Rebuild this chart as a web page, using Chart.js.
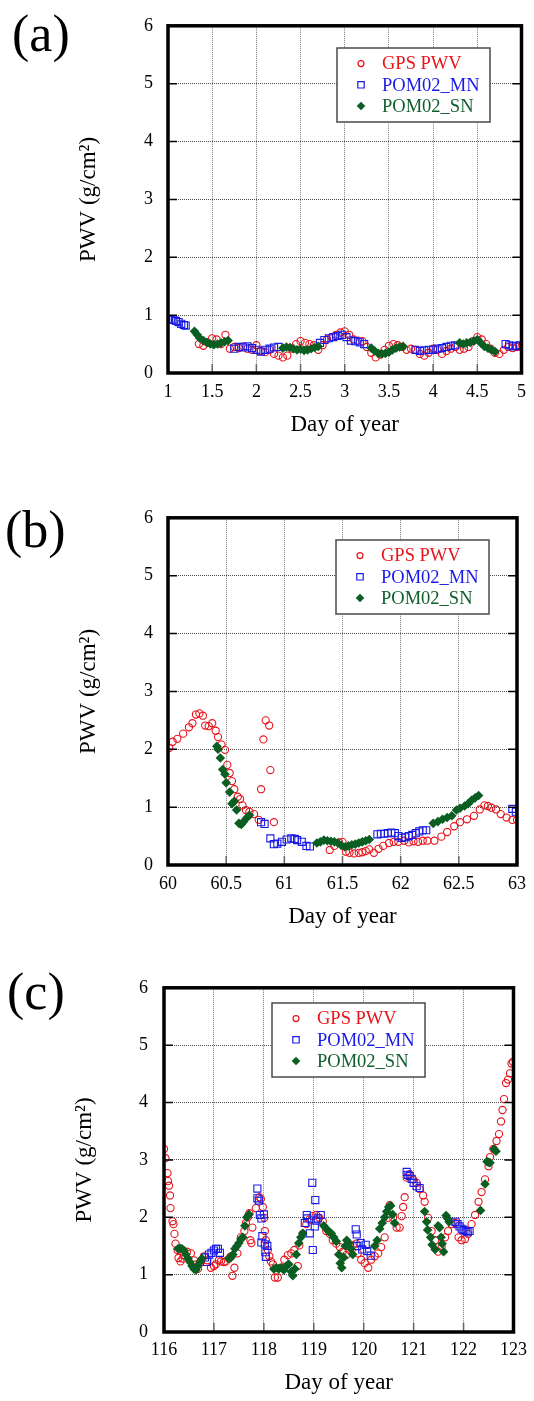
<!DOCTYPE html>
<html>
<head>
<meta charset="utf-8">
<script src="https://cdn.jsdelivr.net/npm/chart.js@4.4.1/dist/chart.umd.min.js"></script>
<style>
  body { margin: 0; background: #fff; width: 534px; height: 1401px; position: relative; overflow: hidden; }
  .panel { position: absolute; left: 0; width: 534px; height: 440px; }
  .tag { position: absolute; font-family: "Liberation Serif", "Times New Roman", serif; font-size: 52px; line-height: 1; color: #000; }
</style>
</head>
<body>
<div class="panel" style="top:0"><canvas id="chart-a"></canvas></div>
<div class="panel" style="top:492px"><canvas id="chart-b"></canvas></div>
<div class="panel" style="top:961px"><canvas id="chart-c"></canvas></div>
<div class="tag" style="left:12px;top:8px">(a)</div>
<div class="tag" style="left:5px;top:504px">(b)</div>
<div class="tag" style="left:7px;top:966px">(c)</div>
<script>
// ---- data ----
const seriesNames = ['GPS PWV', 'POM02_MN', 'POM02_SN'];
const pwvTicks = [0, 1, 2, 3, 4, 5, 6];
const dayTicksA = [1, 1.5, 2, 2.5, 3, 3.5, 4, 4.5, 5];
const dayTicksB = [60, 60.5, 61, 61.5, 62, 62.5, 63];
const dayTicksC = [116, 117, 118, 119, 120, 121, 122, 123];

// (a) days 1-5
const gpsDaysA = [1.35,1.40,1.45,1.50,1.55,1.60,1.65,1.70,1.75,1.80,1.85,1.90,1.95,
  2.00,2.05,2.10,2.15,2.20,2.25,2.30,2.35,2.40,2.45,2.50,2.55,2.60,2.65,2.70,2.75,2.80,2.85,2.90,2.95,
  3.00,3.05,3.10,3.15,3.20,3.25,3.30,3.35,3.40,3.45,3.50,3.55,3.60,3.65,3.70,3.75,3.80,3.85,3.90,3.95,
  4.00,4.05,4.10,4.15,4.20,4.25,4.30,4.35,4.40,4.45,4.50,4.55,4.60,4.65,4.70,4.75,4.80,4.85,4.90,4.95,5.00];
const gpsPwvA = [.50,.47,.52,.60,.58,.50,.66,.42,.45,.43,.46,.42,.40,
  .48,.38,.36,.40,.33,.30,.27,.30,.42,.50,.55,.52,.50,.48,.40,.48,.58,.62,.66,.70,
  .72,.66,.58,.56,.55,.45,.35,.27,.32,.40,.47,.50,.48,.45,.40,.42,.40,.33,.30,.35,
  .42,.40,.33,.38,.42,.45,.40,.42,.45,.55,.62,.58,.50,.42,.35,.33,.40,.45,.43,.45,.45];
const mnDaysA = [1.00,1.03,1.06,1.09,1.12,1.15,1.18,1.20,
  1.75,1.80,1.85,1.90,1.95,2.00,2.05,2.10,2.15,2.20,2.25,
  2.72,2.77,2.82,2.87,2.92,2.97,3.02,3.07,3.12,3.17,3.22,
  3.80,3.85,3.90,3.95,4.00,4.05,4.10,4.15,4.20,4.25,
  4.82,4.86,4.90,4.94,4.98];
const mnPwvA = [.93,.92,.92,.90,.88,.85,.83,.82,
  .42,.45,.44,.46,.43,.40,.37,.40,.42,.44,.45,
  .52,.57,.60,.62,.64,.66,.62,.56,.55,.53,.50,
  .40,.38,.39,.40,.40,.42,.43,.45,.47,.48,
  .50,.48,.46,.47,.48];
const snDaysA = [1.30,1.33,1.36,1.40,1.44,1.48,1.52,1.56,1.60,1.64,1.68,
  2.30,2.34,2.38,2.42,2.46,2.50,2.54,2.58,2.62,2.66,2.70,
  3.30,3.34,3.38,3.42,3.46,3.50,3.54,3.58,3.62,3.66,
  4.30,4.34,4.38,4.42,4.46,4.50,4.54,4.58,4.62,4.66,4.70];
const snPwvA = [.72,.66,.60,.56,.53,.50,.49,.50,.52,.54,.56,
  .43,.45,.44,.42,.40,.41,.39,.40,.42,.44,.46,
  .43,.38,.34,.33,.34,.36,.40,.43,.45,.46,
  .52,.50,.52,.53,.55,.58,.52,.46,.43,.40,.37];

// (b) days 60-63
const gpsDaysB = [60.01,60.04,60.08,60.13,60.18,60.21,60.24,60.27,60.30,60.32,60.35,60.38,60.41,60.43,60.46,
  60.49,60.51,60.53,60.55,60.57,60.60,60.62,60.64,60.67,60.70,60.74,60.78,60.80,60.82,60.84,60.87,60.88,60.91,
  61.39,61.43,61.47,61.50,61.53,61.56,61.60,61.64,61.67,61.70,61.73,61.77,61.81,61.85,61.90,61.94,61.98,
  62.03,62.07,62.11,62.15,62.19,62.23,62.29,62.35,62.40,62.46,62.51,62.57,62.63,62.68,62.72,62.75,62.78,
  62.82,62.86,62.91,62.96,63.00];
const gpsPwvB = [2.02,2.13,2.18,2.27,2.38,2.45,2.60,2.62,2.58,2.41,2.40,2.45,2.32,2.21,2.08,
  1.99,1.73,1.59,1.45,1.31,1.18,1.14,1.03,0.95,0.92,0.88,0.78,1.31,2.17,2.50,2.41,1.64,0.74,
  0.26,0.33,0.39,0.40,0.23,0.21,0.20,0.21,0.22,0.24,0.27,0.21,0.28,0.33,0.38,0.40,0.40,
  0.42,0.39,0.41,0.40,0.42,0.42,0.42,0.49,0.57,0.67,0.74,0.79,0.85,0.96,1.03,1.02,0.99,
  0.96,0.88,0.82,0.78,0.78];
const mnDaysB = [60.80,60.83,60.88,60.91,60.94,60.98,61.02,61.06,61.09,61.11,61.15,61.19,61.22,
  61.80,61.83,61.86,61.89,61.92,61.95,61.98,62.01,62.04,62.07,62.10,62.13,62.16,62.19,62.22,
  62.96,62.99];
const mnPwvB = [.74,.71,.46,.36,.37,.40,.44,.46,.45,.43,.40,.33,.32,
  .53,.54,.54,.55,.56,.55,.50,.47,.48,.50,.52,.55,.58,.60,.60,
  .97,.92];
const snDaysB = [60.42,60.43,60.45,60.47,60.49,60.50,60.53,60.55,60.57,60.59,60.61,60.63,60.65,60.68,60.70,
  61.28,61.31,61.34,61.37,61.40,61.43,61.46,61.49,61.52,61.55,61.58,61.61,61.64,61.67,61.70,61.73,
  62.28,62.32,62.36,62.40,62.44,62.48,62.51,62.55,62.58,62.61,62.64,62.67];
const snPwvB = [2.05,2.00,1.85,1.65,1.57,1.42,1.26,1.06,1.10,0.95,0.72,0.70,0.75,0.82,0.86,
  .38,.40,.43,.42,.41,.40,.38,.34,.31,.33,.35,.36,.38,.40,.42,.44,
  .72,.75,.79,.82,.85,.95,.98,1.02,1.06,1.12,1.16,1.20];

// (c) days 116-123
const gpsDaysC = [116.00,116.03,116.07,116.08,116.10,116.12,116.13,116.17,116.19,116.21,116.23,116.27,116.29,
  116.33,116.37,116.40,116.46,116.54,116.60,116.64,116.68,116.74,116.80,116.87,116.94,117.00,117.04,117.10,
  117.14,117.20,117.24,117.30,117.34,117.37,117.41,117.47,117.54,117.61,117.64,117.68,117.71,117.73,117.75,
  117.77,117.84,117.91,117.94,117.98,118.01,118.02,118.04,118.08,118.11,118.14,118.18,118.22,118.28,118.34,
  118.41,118.48,118.55,118.61,118.68,118.71,118.78,118.85,118.91,118.98,119.05,119.11,119.18,119.25,119.32,
  119.38,119.45,119.52,119.58,119.65,119.72,119.78,119.85,119.88,119.95,120.02,120.09,120.15,120.22,120.29,
  120.35,120.42,120.49,120.52,120.59,120.66,120.72,120.76,120.79,120.82,120.86,120.92,120.99,121.06,121.12,
  121.19,121.22,121.29,121.36,121.43,121.49,121.56,121.63,121.69,121.76,121.83,121.90,121.96,122.03,122.09,
  122.16,122.23,122.30,122.36,122.43,122.50,122.53,122.60,122.66,122.71,122.75,122.78,122.81,122.85,122.89,
  122.93,122.96,122.99];
const gpsPwvC = [3.19,3.03,2.77,2.63,2.55,2.38,2.16,1.93,1.88,1.71,1.54,1.43,1.29,
  1.23,1.28,1.34,1.40,1.37,1.25,1.18,1.10,1.22,1.32,1.25,1.12,1.15,1.18,1.25,
  1.23,1.22,1.23,1.28,1.32,0.98,1.12,1.37,1.65,1.76,1.90,2.00,2.07,1.60,1.55,
  1.82,2.16,2.35,2.32,2.18,1.99,1.76,1.60,1.43,1.32,1.23,1.18,0.95,0.95,1.12,
  1.26,1.34,1.37,1.43,1.15,1.51,1.71,1.88,1.96,2.02,2.04,1.99,1.93,1.76,1.71,
  1.60,1.54,1.48,1.40,1.34,1.43,1.51,1.54,1.37,1.26,1.20,1.12,1.26,1.32,1.37,
  1.48,1.65,1.99,2.21,1.99,1.82,1.82,2.02,2.18,2.35,2.69,2.75,2.66,2.60,2.49,
  2.38,2.27,1.99,1.76,1.60,1.40,1.48,1.65,1.76,1.88,1.90,1.65,1.60,1.62,1.71,
  1.88,2.04,2.27,2.44,2.66,2.89,3.05,3.19,3.33,3.45,3.67,3.87,4.06,4.34,4.40,
  4.51,4.68,4.71];
const mnDaysC = [116.82,116.86,116.90,116.95,117.00,117.04,117.08,117.12,
  117.87,117.87,117.90,117.92,117.95,117.97,117.95,118.02,118.07,118.03,118.04,118.00,
  118.82,118.86,118.87,118.92,118.97,118.98,119.02,119.03,119.05,119.08,119.14,
  119.84,119.86,119.87,119.94,119.97,120.04,120.07,120.14,
  120.86,120.88,120.92,120.96,121.00,121.06,121.12,
  121.84,121.88,121.92,121.96,122.00,122.04,122.08,122.12];
const mnPwvC = [1.30,1.22,1.35,1.38,1.42,1.45,1.45,1.38,
  2.50,2.33,2.29,2.04,1.98,1.67,1.56,1.53,1.50,1.39,1.31,2.05,
  1.90,2.04,1.98,1.72,2.60,1.43,1.84,2.30,1.94,1.98,2.04,
  1.79,1.70,1.50,1.55,1.44,1.52,1.41,1.33,
  2.79,2.74,2.72,2.67,2.60,2.54,2.51,
  1.92,1.88,1.84,1.80,1.78,1.76,1.74,1.76];
const snDaysC = [116.28,116.32,116.36,116.40,116.44,116.48,116.52,116.56,116.60,116.64,116.68,116.72,116.76,
  117.30,117.34,117.38,117.42,117.46,117.50,117.54,117.58,117.62,117.66,117.70,
  118.20,118.25,118.30,118.35,118.40,118.45,118.50,118.55,118.58,118.62,
  118.65,118.70,118.74,118.78,
  119.20,119.25,119.30,119.35,119.40,119.45,119.50,119.53,119.56,119.60,119.63,119.66,119.70,119.74,119.78,
  120.22,120.27,120.32,120.37,120.42,120.46,120.50,120.54,120.58,120.62,
  121.22,121.26,121.28,121.34,121.37,121.43,121.49,121.52,121.55,121.57,121.60,121.65,121.68,121.71,
  122.34,122.43,122.47,122.50,122.53,122.61,122.65];
const snPwvC = [1.45,1.46,1.45,1.42,1.35,1.28,1.22,1.15,1.10,1.08,1.15,1.22,1.28,
  1.28,1.30,1.35,1.45,1.50,1.55,1.62,1.65,1.85,2.00,2.05,
  1.10,1.12,1.10,1.12,1.08,1.15,1.18,1.05,0.98,1.10,
  1.35,1.55,1.65,1.72,
  1.85,1.80,1.75,1.72,1.65,1.58,1.35,1.20,1.12,1.30,1.50,1.60,1.55,1.45,1.35,
  1.50,1.60,1.80,1.90,2.00,2.10,2.18,2.20,2.05,1.90,
  2.10,1.92,1.78,1.65,1.52,1.44,1.85,1.82,1.65,1.54,1.40,2.03,1.98,1.92,
  2.12,2.58,2.97,2.96,2.95,3.19,3.15];

// ---- styling ----
const FONT = '"Liberation Serif", "Times New Roman", serif';
Chart.defaults.font.family = FONT;
Chart.defaults.color = '#000';

const RED = '#e8141c', BLUE = '#1a1ae6', GREEN = '#0b5e22';
const textColors = ['#e8141c', '#1a1ae6', '#0d5e2a'];

// small marker painter used by the legend box
function mark(ctx, kind, x, y) {
  ctx.beginPath();
  if (kind === 0) {
    ctx.strokeStyle = RED; ctx.lineWidth = 1.2;
    ctx.arc(x, y, 3, 0, Math.PI * 2); ctx.stroke();
  } else if (kind === 1) {
    ctx.strokeStyle = BLUE; ctx.lineWidth = 1.2;
    ctx.rect(x - 3.2, y - 3.2, 6.4, 6.4); ctx.stroke();
  } else {
    ctx.fillStyle = GREEN;
    ctx.moveTo(x, y - 4.3); ctx.lineTo(x + 4.3, y); ctx.lineTo(x, y + 4.3); ctx.lineTo(x - 4.3, y);
    ctx.closePath(); ctx.fill();
  }
}

const legendBox = {
  id: 'legendBox',
  afterDraw(chart, args, opts) {
    const { ctx } = chart;
    const { x, y } = opts;
    ctx.save();
    ctx.fillStyle = '#fff';
    ctx.fillRect(x, y, 153, 74);
    ctx.strokeStyle = '#4a4a4a';
    ctx.lineWidth = 1.5;
    ctx.strokeRect(x, y, 153, 74);
    seriesNames.forEach((name, i) => {
      const yy = y + 15.6 + i * 21.2;
      mark(ctx, i, x + 24, yy);
      ctx.fillStyle = textColors[i];
      ctx.font = `18.5px ${FONT}`;
      ctx.textBaseline = 'middle';
      ctx.fillText(name, x + 45, yy + 1);
    });
    ctx.restore();
  }
};

// thick frame + inward tick marks
const frame = {
  id: 'frame',
  afterDatasetsDraw(chart) {
    const { ctx, chartArea: a, scales: { x, y } } = chart;
    ctx.save();
    ctx.strokeStyle = '#000';
    ctx.lineWidth = 1.5;
    ctx.beginPath();
    y.ticks.forEach(t => {
      const py = y.getPixelForValue(t.value);
      ctx.moveTo(a.left, py); ctx.lineTo(a.left + 9, py);
      ctx.moveTo(a.right - 9, py); ctx.lineTo(a.right, py);
    });
    ctx.stroke();
    ctx.strokeStyle = '#666';
    ctx.beginPath();
    x.ticks.forEach(t => {
      const px = x.getPixelForValue(t.value);
      ctx.moveTo(px, a.bottom); ctx.lineTo(px, a.bottom - 9);
    });
    ctx.stroke();
    ctx.strokeStyle = '#000';
    ctx.lineWidth = 3.5;
    ctx.strokeRect(a.left, a.top, a.right - a.left, a.bottom - a.top);
    ctx.restore();
  }
};

function pts(days, vals) {
  return days.map((d, i) => ({ x: d, y: vals[i] }));
}

function makePanel(id, p) {
  new Chart(document.getElementById(id), {
    type: 'scatter',
    data: {
      datasets: [
        { label: seriesNames[0], data: pts(p.gps[0], p.gps[1]), order: 3,
          pointStyle: 'circle', pointRadius: 3.6, pointBorderWidth: 1.1,
          pointBorderColor: RED, pointBackgroundColor: 'rgba(0,0,0,0)' },
        { label: seriesNames[1], data: pts(p.mn[0], p.mn[1]), order: 2,
          pointStyle: 'rect', pointRadius: 5, pointBorderWidth: 1.1,
          pointBorderColor: BLUE, pointBackgroundColor: 'rgba(0,0,0,0)' },
        { label: seriesNames[2], data: pts(p.sn[0], p.sn[1]), order: 1,
          pointStyle: 'rectRot', pointRadius: 4.8, pointBorderWidth: 0,
          pointBorderColor: GREEN, pointBackgroundColor: GREEN }
      ]
    },
    options: {
      responsive: true,
      maintainAspectRatio: false,
      animation: false,
      events: [],
      layout: { padding: { top: p.top, right: 534 - p.right, left: 0, bottom: 0 } },
      plugins: {
        legend: { display: false },
        tooltip: { enabled: false },
        legendBox: { x: p.legend[0], y: p.legend[1] }
      },
      scales: {
        x: {
          type: 'linear',
          min: p.ticks[0],
          max: p.ticks[p.ticks.length - 1],
          afterBuildTicks: s => { s.ticks = p.ticks.map(v => ({ value: v })); },
          afterFit: s => { s.height = 440 - p.bottom; },
          grid: { color: 'rgba(0,0,0,0.5)', lineWidth: 1, drawTicks: false },
          border: { display: false, dash: [1, 1] },
          ticks: { font: { size: 18 }, padding: p.xTickPad, maxRotation: 0, callback: v => String(v) },
          title: { display: true, text: 'Day of year', font: { size: 23 },
                   padding: { top: 0, bottom: p.xTitlePad } }
        },
        y: {
          type: 'linear',
          min: 0,
          max: 6,
          afterBuildTicks: s => { s.ticks = pwvTicks.map(v => ({ value: v })); },
          afterFit: s => { s.width = p.left; },
          grid: { color: 'rgba(0,0,0,0.7)', lineWidth: 1, drawTicks: false },
          border: { display: false, dash: [1, 1] },
          ticks: { font: { size: 18 }, padding: p.yTickPad, callback: v => String(v) },
          title: { display: true, text: 'PWV (g/cm²)', font: { size: 23 },
                   padding: { top: p.yTitlePad, bottom: 0 } }
        }
      }
    },
    plugins: [frame, legendBox]
  });
}

makePanel('chart-a', {
  gps: [gpsDaysA, gpsPwvA], mn: [mnDaysA, mnPwvA], sn: [snDaysA, snPwvA],
  ticks: dayTicksA, left: 168, right: 525, top: 16, bottom: 373,
  legend: [337, 48], xTickPad: 8, xTitlePad: 1, yTickPad: 15, yTitlePad: 75
});
makePanel('chart-b', {
  gps: [gpsDaysB, gpsPwvB], mn: [mnDaysB, mnPwvB], sn: [snDaysB, snPwvB],
  ticks: dayTicksB, left: 168, right: 525, top: 16, bottom: 373,
  legend: [336, 48], xTickPad: 8, xTitlePad: 1, yTickPad: 15, yTitlePad: 75
});
makePanel('chart-c', {
  gps: [gpsDaysC, gpsPwvC], mn: [mnDaysC, mnPwvC], sn: [snDaysC, snPwvC],
  ticks: dayTicksC, left: 164, right: 518, top: 16, bottom: 371,
  legend: [272, 42], xTickPad: 7, xTitlePad: 4, yTickPad: 16, yTitlePad: 71
});
</script>
</body>
</html>
